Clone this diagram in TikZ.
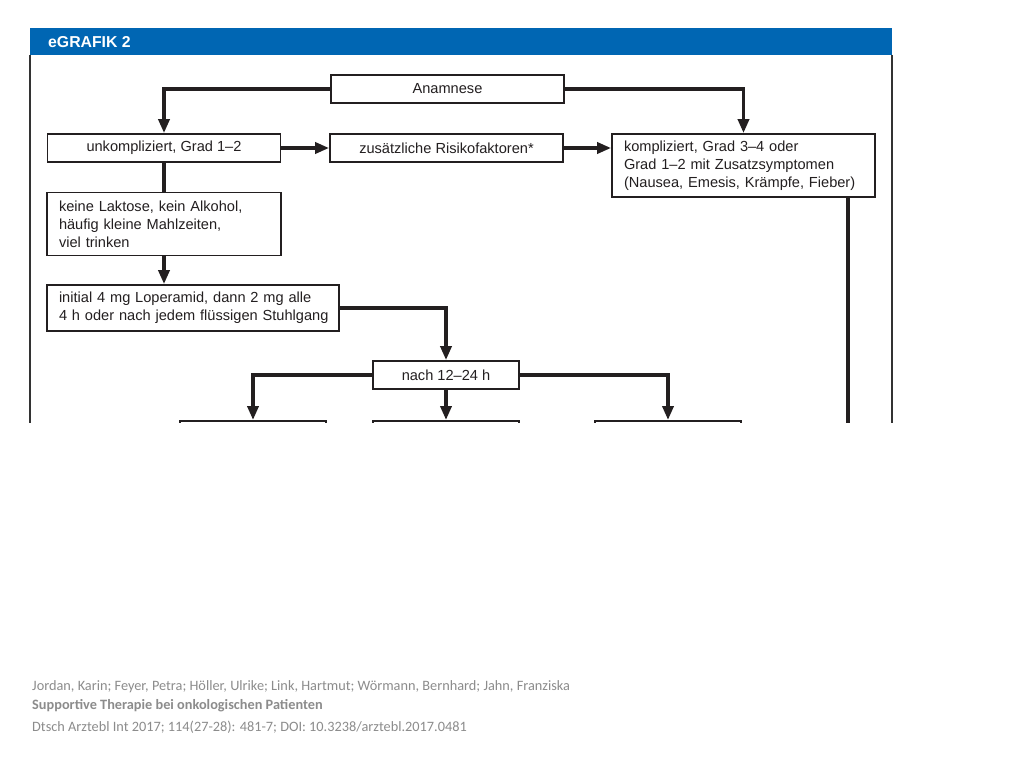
\documentclass[tikz,border=0pt]{standalone}
\usepackage{fontspec}
\setmainfont{Liberation Sans}
\newfontfamily\footfont{Carlito}
\usetikzlibrary{arrows.meta,calc}
\definecolor{hdr}{HTML}{0066B3}
\definecolor{ink}{HTML}{231F20}
\definecolor{frm}{HTML}{333333}
\definecolor{foot}{HTML}{8C8C8C}
\hyphenpenalty=10000
\begin{document}
\begin{tikzpicture}[x=1pt,y=-1pt,
  box/.style={draw=ink,line width=1.8pt,fill=white,inner sep=0pt,
    font=\fontsize{14.6}{18}\selectfont,text=ink},
  flow/.style={draw=ink,line width=3.6pt,line join=miter,-{Triangle[length=14pt,width=11pt]}},
  plain/.style={draw=ink,line width=3.6pt,line join=miter},
  frameline/.style={draw=frm,line width=1.8pt},
  foottext/.style={anchor=west,inner sep=0pt,text=foot,font=\footfont\fontsize{14.3}{16}\selectfont}
  ]
\useasboundingbox (0,0) rectangle (1024,768);
\fill[white] (0,0) rectangle (1024,768);
\begin{scope}
\clip (0,0) rectangle (1024,422);
\fill[hdr] (30,28) rectangle (892,55);
\node[anchor=west,inner sep=0pt,text=white,font=\bfseries\fontsize{15.8}{18}\selectfont] (title) at (48,42) {eGRAFIK 2};
\draw[frameline] (30,55) -- (30,430);
\draw[frameline] (892,55) -- (892,430);

\node[box,minimum width=233pt,minimum height=28pt] (anam) at (447.5,89) {Anamnese};
\node[box,minimum width=233pt,minimum height=28pt] (unk) at (164,148) {unkompliziert, Grad 1–2};
\node[box,minimum width=233pt,minimum height=28pt] (zus) at (446.5,148) {zusätzliche Risikofaktoren*};
\node[box,minimum width=263pt,minimum height=63pt,text width=239pt,align=left] (komp) at (743.5,165.5)
  {\mbox{kompliziert, Grad 3–4 oder}\\\mbox{Grad 1–2 mit Zusatzsymptomen}\\\mbox{(Nausea, Emesis, Krämpfe, Fieber)}};
\node[box,minimum width=234pt,minimum height=63pt,text width=210pt,align=left] (keine) at (164,224)
  {\mbox{keine Laktose, kein Alkohol,}\\\mbox{häufig kleine Mahlzeiten,}\\\mbox{viel trinken}};
\node[box,minimum width=292pt,minimum height=46pt,text width=268pt,align=left] (init) at (193,308)
  {\mbox{initial 4 mg Loperamid, dann 2 mg alle}\\\mbox{4 h oder nach jedem flüssigen Stuhlgang}};
\node[box,minimum width=146pt,minimum height=28pt] (nach) at (446,375) {nach 12–24 h};
\node[box,minimum width=146pt,minimum height=60pt,anchor=north] (b1) at (253,420) {};
\node[box,minimum width=146pt,minimum height=60pt,anchor=north] (b2) at (446,420) {};
\node[box,minimum width=146pt,minimum height=60pt,anchor=north] (b3) at (668,420) {};
\coordinate (kend) at (848,430);

\draw[flow] (anam.west) -| (unk.north);
\draw[flow] (anam.east) -| (komp.north);
\draw[flow] (unk.east) -- (zus.west);
\draw[flow] (zus.east) -- (zus.east -| komp.west);
\draw[plain] (unk.south) -- (keine.north);
\draw[flow] (keine.south) -- (keine.south |- init.north);
\draw[flow] (init.east) -| (nach.north);
\draw[flow] (nach.west) -| (b1.north);
\draw[flow] (nach.south) -- (b2.north);
\draw[flow] (nach.east) -| (b3.north);
\draw[plain] (komp.south -| kend) -- (kend);
\end{scope}

\node[foottext] (f1) at (32,687) {Jordan, Karin; Feyer, Petra; Höller, Ulrike; Link, Hartmut; Wörmann, Bernhard; Jahn, Franziska};
\node[foottext,font=\footfont\bfseries\fontsize{14.3}{16}\selectfont] (f2) at (32,706) {Supportive Therapie bei onkologischen Patienten};
\node[foottext] (f3) at (32,727) {Dtsch Arztebl Int 2017; 114(27-28): 481-7; DOI: 10.3238/arztebl.2017.0481};
\end{tikzpicture}
\end{document}
